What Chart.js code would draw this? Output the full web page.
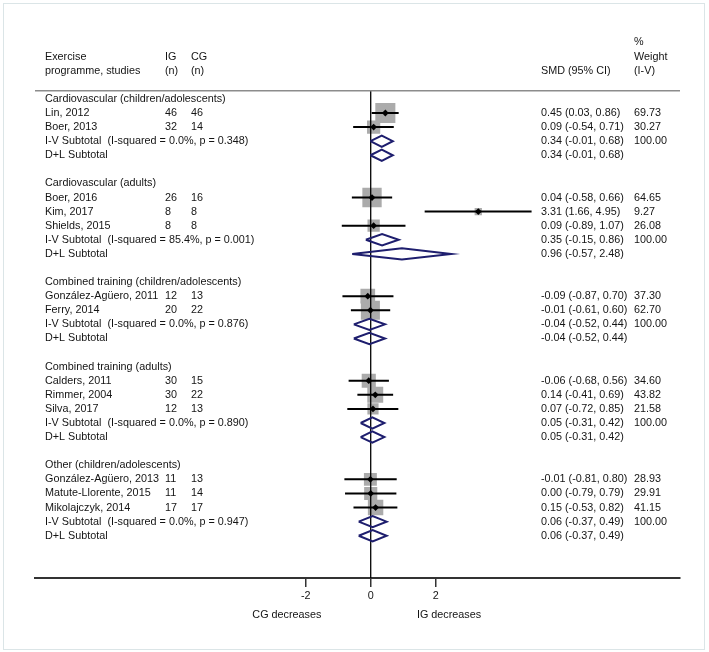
<!DOCTYPE html>
<html><head><meta charset="utf-8">
<script src="https://cdn.jsdelivr.net/npm/chart.js@4.4.1/dist/chart.umd.min.js"></script>
<style>
html,body{margin:0;padding:0;background:#fff;}
#wrap{position:relative;width:709px;height:652px;}
#frame{position:absolute;left:3px;top:3px;width:700px;height:645px;border:1px solid #dbe5e7;pointer-events:none;}
canvas{position:absolute;left:0;top:0;}
</style></head><body>
<div id="wrap"><canvas id="c" width="709" height="652"></canvas><div id="frame"></div></div>
<script>
// ---- data ----
const groupNames = ['Cardiovascular (children/adolescents)', 'Cardiovascular (adults)', 'Combined training (children/adolescents)', 'Combined training (adults)', 'Other (children/adolescents)'];
const studyNames = ['Lin, 2012','Boer, 2013','Boer, 2016','Kim, 2017','Shields, 2015','González-Agüero, 2011','Ferry, 2014','Calders, 2011','Rimmer, 2004','Silva, 2017','González-Agüero, 2013','Matute-Llorente, 2015','Mikolajczyk, 2014'];
const studyGroup = [0,0,1,1,1,2,2,3,3,3,4,4,4];
const igN = [46,32,26,8,8,12,20,30,30,12,11,11,17];
const cgN = [46,14,16,8,8,13,22,15,22,13,13,14,17];
const smd = [0.45,0.09,0.04,3.31,0.09,-0.09,-0.01,-0.06,0.14,0.07,-0.01,0.00,0.15];
const ciLow = [0.03,-0.54,-0.58,1.66,-0.89,-0.87,-0.61,-0.68,-0.41,-0.72,-0.81,-0.79,-0.53];
const ciHigh = [0.86,0.71,0.66,4.95,1.07,0.70,0.60,0.56,0.69,0.85,0.80,0.79,0.82];
const weightIV = [69.73,30.27,64.65,9.27,26.08,37.30,62.70,34.60,43.82,21.58,28.93,29.91,41.15];
const ivI2 = ['0.0%','85.4%','0.0%','0.0%','0.0%'];
const ivP = ['0.348','0.001','0.876','0.890','0.947'];
const ivEst = [0.34,0.35,-0.04,0.05,0.06];
const ivLow = [-0.01,-0.15,-0.52,-0.31,-0.37];
const ivHigh = [0.68,0.86,0.44,0.42,0.49];
const dlEst = [0.34,0.96,-0.04,0.05,0.06];
const dlLow = [-0.01,-0.57,-0.52,-0.31,-0.37];
const dlHigh = [0.68,2.48,0.44,0.42,0.49];
const tickValues = [-2,0,2];
const sideLabels = ['CG decreases','IG decreases'];

// ---- row layout ----
const rows = [];
let r = 0;
const studyRow = [], ivRow = [], dlRow = [];
groupNames.forEach((g, gi) => {
  rows.push({type:'group', idx:gi, row:r++});
  studyGroup.forEach((sg, si) => { if (sg === gi) { studyRow[si] = r; rows.push({type:'study', idx:si, row:r++}); } });
  ivRow[gi] = r; rows.push({type:'iv', idx:gi, row:r++});
  dlRow[gi] = r; rows.push({type:'dl', idx:gi, row:r++});
  r++;
});
const f2 = v => v.toFixed(2);

const X_MIN = -10.33, X_MAX = 9.517, Y_MIN = -6.01, Y_MAX = 34.0, HEADER_ROW = -0.58, DH = 0.4;

const ciData = [];
smd.forEach((v, i) => { ciData.push({x:ciLow[i], y:studyRow[i]}, {x:ciHigh[i], y:studyRow[i]}, {x:null, y:null}); });
const diaData = [];
function addDiamond(est, lo, hi, row) {
  diaData.push({x:lo,y:row},{x:est,y:row-DH},{x:hi,y:row},{x:est,y:row+DH},{x:lo,y:row},{x:null,y:null});
}
groupNames.forEach((g, gi) => { addDiamond(ivEst[gi], ivLow[gi], ivHigh[gi], ivRow[gi]); addDiamond(dlEst[gi], dlLow[gi], dlHigh[gi], dlRow[gi]); });

const FAMILY = '"Liberation Sans", Arial, sans-serif';
const FSIZE = 10.8;
const FONT = FSIZE + 'px ' + FAMILY;
const TXT = '#141414';

const textPlugin = {
  id: 'forestText',
  afterDraw(chart) {
    const ctx = chart.ctx, y = chart.scales.y, x = chart.scales.x;
    ctx.save();
    ctx.font = FONT; ctx.fillStyle = TXT; ctx.textBaseline = 'middle'; ctx.textAlign = 'left';
    const C = {name:45, ig:165, cg:191, smd:541, w:634};
    const put = (t, cx, row) => ctx.fillText(t, cx, y.getPixelForValue(row));
    put('%', C.w, -4);
    put('Exercise', C.name, -3); put('IG', C.ig, -3); put('CG', C.cg, -3); put('Weight', C.w, -3);
    put('programme, studies', C.name, -2); put('(n)', C.ig, -2); put('(n)', C.cg, -2); put('SMD (95% CI)', C.smd, -2); put('(I-V)', C.w, -2);
    rows.forEach(o => {
      if (o.type === 'group') put(groupNames[o.idx], C.name, o.row);
      else if (o.type === 'study') {
        const i = o.idx;
        put(studyNames[i], C.name, o.row); put(String(igN[i]), C.ig, o.row); put(String(cgN[i]), C.cg, o.row);
        put(f2(smd[i]) + ' (' + f2(ciLow[i]) + ', ' + f2(ciHigh[i]) + ')', C.smd, o.row);
        put(f2(weightIV[i]), C.w, o.row);
      } else if (o.type === 'iv') {
        const g = o.idx;
        put('I-V Subtotal  (I-squared = ' + ivI2[g] + ', p = ' + ivP[g] + ')', C.name, o.row);
        put(f2(ivEst[g]) + ' (' + f2(ivLow[g]) + ', ' + f2(ivHigh[g]) + ')', C.smd, o.row);
        put('100.00', C.w, o.row);
      } else if (o.type === 'dl') {
        const g = o.idx;
        put('D+L Subtotal', C.name, o.row);
        put(f2(dlEst[g]) + ' (' + f2(dlLow[g]) + ', ' + f2(dlHigh[g]) + ')', C.smd, o.row);
      }
    });
    ctx.textAlign = 'center';
    ctx.fillText(sideLabels[0], x.getPixelForValue(-2.58), 615);
    ctx.fillText(sideLabels[1], x.getPixelForValue(2.41), 615);
    ctx.restore();
  }
};

new Chart(document.getElementById('c'), {
  type: 'scatter',
  data: { datasets: [
    { label:'weights', order:5, data: smd.map((v,i)=>({x:v, y:studyRow[i]})),
      pointStyle:'rect', backgroundColor:'#ababab', borderWidth:0,
      pointRadius: c => 1.7 * Math.sqrt(weightIV[c.dataIndex] || 0) },
    { label:'header', order:4, data:[{x:X_MIN,y:HEADER_ROW},{x:X_MAX,y:HEADER_ROW}], showLine:true, pointRadius:0, borderColor:'#8c8c8c', borderWidth:1.6 },
    { label:'zero', order:4, data:[{x:0,y:HEADER_ROW},{x:0,y:Y_MAX}], showLine:true, pointRadius:0, borderColor:'#000', borderWidth:1.3 },
    { label:'ci', order:3, data: ciData, showLine:true, spanGaps:false, pointRadius:0, borderColor:'#000', borderWidth:2, borderCapStyle:'butt' },
    { label:'subtotal', order:2, data: diaData, showLine:true, spanGaps:false, pointRadius:0, borderColor:'#1e1e6e', borderWidth:2, borderJoinStyle:'miter' },
    { label:'est', order:1, data: smd.map((v,i)=>({x:v, y:studyRow[i]})), pointStyle:'rectRot', pointRadius:3.4, backgroundColor:'#000', borderWidth:0 }
  ]},
  options: {
    responsive:false, animation:false, events:[],
    layout:{ padding:{ left:35, right:29, top:11, bottom:0 } },
    plugins:{ legend:{display:false}, tooltip:{enabled:false} },
    scales:{
      x:{ type:'linear', min:X_MIN, max:X_MAX,
        afterBuildTicks: s => { s.ticks = tickValues.map(v => ({value:v})); },
        afterFit: s => { s.height = 74; },
        grid:{ drawOnChartArea:false, drawTicks:true, tickLength:9, color:'#333', lineWidth:1.5 },
        border:{ display:true, color:'#333', width:2 },
        ticks:{ color:TXT, font:{ family:FAMILY, size:FSIZE }, padding:3, maxRotation:0 } },
      y:{ type:'linear', reverse:true, min:Y_MIN, max:Y_MAX, display:false }
    }
  },
  plugins:[textPlugin]
});
</script>
</body></html>
